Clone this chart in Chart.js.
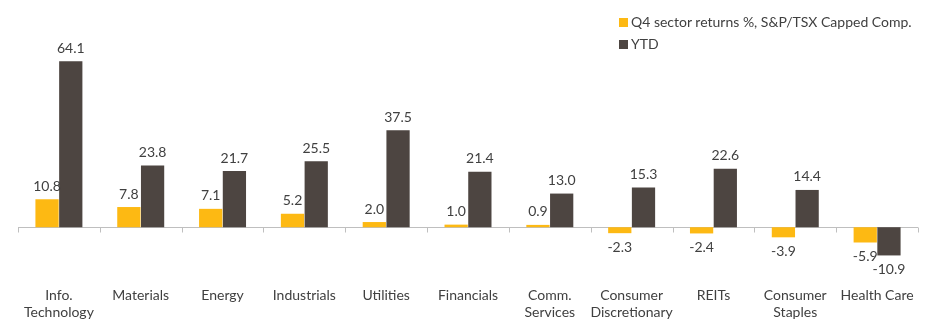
<!DOCTYPE html>
<html>
<head>
<meta charset="utf-8">
<script src="https://cdn.jsdelivr.net/npm/chart.js@4"></script>
<style>
  body { margin: 0; background: #fff; }
  #wrap { position: relative; width: 929px; height: 336px; }
  #legend { position: absolute; left: 619px; top: 11px; font-family: Lato, "Open Sans", sans-serif; font-size: 14px; color: #404040; }
  #legend div { height: 22px; line-height: 22px; white-space: nowrap; }
  #legend span { display: inline-block; width: 9px; height: 9px; margin-right: 3px; vertical-align: 0px; }
</style>
</head>
<body>
<div id="wrap">
  <canvas id="chart" width="929" height="336"></canvas>
  <div id="legend"></div>
</div>
<script>
// Data
const sectors = [["Info.", "Technology"], "Materials", "Energy", "Industrials", "Utilities", "Financials",
  ["Comm.", "Services"], ["Consumer", "Discretionary"], "REITs", ["Consumer", "Staples"], "Health Care"];
const q4Returns = [10.8, 7.8, 7.1, 5.2, 2.0, 1.0, 0.9, -2.3, -2.4, -3.9, -5.9];
const ytdReturns = [64.1, 23.8, 21.7, 25.5, 37.5, 21.4, 13.0, 15.3, 22.6, 14.4, -10.9];
const seriesNames = ["Q4 sector returns %, S&P/TSX Capped Comp.", "YTD"];
const seriesColors = ["#FDB913", "#4D4541"];

const textColor = "#404040";
const fontFamily = "Lato, 'Open Sans', sans-serif";

// zero line + category tick marks
const zeroAxis = {
  id: "zeroAxis",
  beforeDatasetsDraw(chart) {
    const ctx = chart.ctx;
    const x = chart.scales.x, y = chart.scales.y;
    const y0 = Math.round(y.getPixelForValue(0)) + 0.5;
    const step = (x.right - x.left) / sectors.length;
    ctx.save();
    ctx.strokeStyle = "#BFBFBF";
    ctx.lineWidth = 1;
    ctx.beginPath();
    ctx.moveTo(x.left, y0);
    ctx.lineTo(x.right, y0);
    for (let i = 0; i <= sectors.length; i++) {
      const px = Math.round(x.left + i * step) + 0.5;
      ctx.moveTo(px, y0);
      ctx.lineTo(px, y0 + 5);
    }
    ctx.stroke();
    ctx.restore();
  }
};

// value labels above / below bars
const valueLabels = {
  id: "valueLabels",
  afterDatasetsDraw(chart) {
    const ctx = chart.ctx;
    ctx.save();
    ctx.font = "14px " + fontFamily;
    ctx.fillStyle = textColor;
    ctx.textAlign = "center";
    ctx.textBaseline = "middle";
    chart.data.datasets.forEach((ds, di) => {
      chart.getDatasetMeta(di).data.forEach((bar, i) => {
        const v = ds.data[i];
        const ypos = v >= 0 ? bar.y - 13 : bar.y + 14;
        ctx.fillText(v.toFixed(1), bar.x, ypos);
      });
    });
    ctx.restore();
  }
};

new Chart(document.getElementById("chart").getContext("2d"), {
  type: "bar",
  data: {
    labels: sectors,
    datasets: [
      { label: seriesNames[0], data: q4Returns, backgroundColor: seriesColors[0] },
      { label: seriesNames[1], data: ytdReturns, backgroundColor: seriesColors[1] }
    ]
  },
  options: {
    responsive: false,
    animation: false,
    layout: { padding: { left: 18, right: 11, top: 46, bottom: 0 } },
    plugins: {
      legend: { display: false },
      tooltip: { enabled: false }
    },
    datasets: { bar: { categoryPercentage: 0.58, barPercentage: 0.98 } },
    scales: {
      x: {
        grid: { display: false },
        border: { display: false },
        ticks: {
          color: textColor,
          font: { family: fontFamily, size: 14 },
          padding: 0,
          maxRotation: 0,
          autoSkip: false
        },
        afterFit(scale) { scale.height = 57; }
      },
      y: {
        display: false,
        min: -20,
        max: 70
      }
    }
  },
  plugins: [zeroAxis, valueLabels]
});

// Legend
const legend = document.getElementById("legend");
seriesNames.forEach((name, i) => {
  const row = document.createElement("div");
  const sw = document.createElement("span");
  sw.style.background = seriesColors[i];
  row.appendChild(sw);
  row.appendChild(document.createTextNode(name));
  legend.appendChild(row);
});
</script>
</body>
</html>
